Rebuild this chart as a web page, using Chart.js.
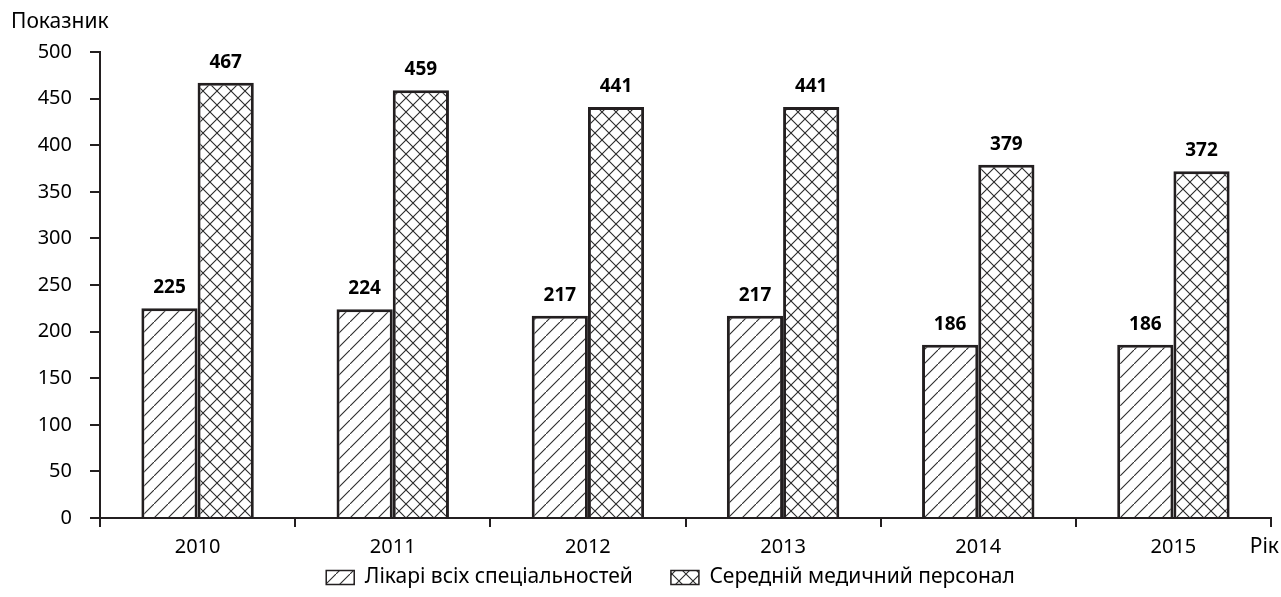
<!DOCTYPE html>
<html>
<head>
<meta charset="utf-8">
<script src="https://cdn.jsdelivr.net/npm/chart.js@4/dist/chart.umd.min.js"></script>
<style>
  html, body { margin: 0; padding: 0; background: #fff; }
  #wrap { width: 1281px; height: 597px; }
</style>
</head>
<body>
<div id="wrap"><canvas id="chart" width="1281" height="597"></canvas></div>
<script>
// роки та значення (на 10 тис. населення)
const years = ['2010', '2011', '2012', '2013', '2014', '2015'];
const doctors = [225, 224, 217, 217, 186, 186];
const nurses = [467, 459, 441, 441, 379, 372];
const seriesNames = ['Лікарі всіх спеціальностей', 'Середній медичний персонал'];
const yTicks = [0, 50, 100, 150, 200, 250, 300, 350, 400, 450, 500];

const INK = '#231f20';
const FONT = '"Noto Sans", "Open Sans", sans-serif';

// штрихування: '/' для лікарів, сітка для середнього персоналу
function hatch(cross) {
  const s = 14;
  const c = document.createElement('canvas');
  c.width = s; c.height = s;
  const g = c.getContext('2d');
  g.fillStyle = '#fff';
  g.fillRect(0, 0, s, s);
  g.strokeStyle = '#2a2a2a';
  g.lineWidth = 1.1;
  g.beginPath();
  g.moveTo(-1, s + 1); g.lineTo(s + 1, -1);
  if (cross) { g.moveTo(-1, -1); g.lineTo(s + 1, s + 1); }
  g.stroke();
  return g.createPattern(c, 'repeat');
}

const valueLabels = {
  id: 'valueLabels',
  afterDatasetsDraw(chart) {
    const ctx = chart.ctx;
    ctx.save();
    ctx.font = 'bold 19px ' + FONT;
    ctx.fillStyle = '#000';
    ctx.textAlign = 'center';
    ctx.textBaseline = 'alphabetic';
    chart.data.datasets.forEach((ds, i) => {
      chart.getDatasetMeta(i).data.forEach((bar, j) => {
        ctx.fillText(String(ds.data[j]), bar.x, bar.y - 15);
      });
    });
    ctx.restore();
  }
};

const axisNames = {
  id: 'axisNames',
  afterDraw(chart) {
    const ctx = chart.ctx;
    const area = chart.chartArea;
    ctx.save();
    ctx.font = '21px ' + FONT;
    ctx.fillStyle = '#000';
    ctx.textBaseline = 'middle';
    ctx.textAlign = 'left';
    ctx.fillText('Показник', 11, 22);
    ctx.textAlign = 'right';
    ctx.fillText('Рік', area.right + 8, 547);
    ctx.restore();
  }
};

// легенда ближче до підписів осі x (і ширша зона відсікання)
const legendShift = {
  id: 'legendShift',
  afterLayout(chart) {
    const lg = chart.legend;
    lg.top -= 33;
    lg.bottom = chart.height;
    lg.height = lg.bottom - lg.top;
    lg.left -= 15; lg.right -= 15;
  }
};

new Chart(document.getElementById('chart'), {
  type: 'bar',
  data: {
    labels: years,
    datasets: [
      { label: seriesNames[0], data: doctors, backgroundColor: hatch(false) },
      { label: seriesNames[1], data: nurses, backgroundColor: hatch(true) }
    ]
  },
  options: {
    responsive: false,
    animation: false,
    events: [],
    layout: { padding: { top: 52, right: 10, left: 0, bottom: 0 } },
    datasets: {
      bar: {
        borderColor: INK,
        borderWidth: 3,
        categoryPercentage: 0.576,
        barPercentage: 1.0
      }
    },
    plugins: {
      tooltip: { enabled: false },
      legend: {
        position: 'bottom',
        fullSize: false,
        maxHeight: 35,
        labels: {
          font: { family: FONT, size: 21 },
          color: '#000',
          boxWidth: 28,
          boxHeight: 14,
          padding: 38,
          generateLabels(chart) {
            return chart.data.datasets.map((ds, i) => ({
              text: ds.label,
              fillStyle: ds.backgroundColor,
              strokeStyle: INK,
              lineWidth: 1.5,
              datasetIndex: i
            }));
          }
        }
      }
    },
    scales: {
      x: {
        grid: {
          offset: true,
          drawOnChartArea: false,
          drawTicks: true,
          tickLength: 9,
          color: INK,
          lineWidth: 2
        },
        border: { color: INK, width: 2 },
        ticks: { color: '#000', font: { family: FONT, size: 20 }, padding: 8 },
        afterFit(scale) { scale.height = 44; }
      },
      y: {
        min: 0,
        max: 500,
        afterBuildTicks(scale) { scale.ticks = yTicks.map(v => ({ value: v })); },
        grid: {
          drawOnChartArea: false,
          drawTicks: true,
          tickLength: 10,
          color: INK,
          lineWidth: 2
        },
        border: { color: INK, width: 2 },
        ticks: { color: '#000', font: { family: FONT, size: 20 }, padding: 18 },
        afterFit(scale) { scale.width = 100; }
      }
    }
  },
  plugins: [valueLabels, axisNames, legendShift]
});
</script>
</body>
</html>
